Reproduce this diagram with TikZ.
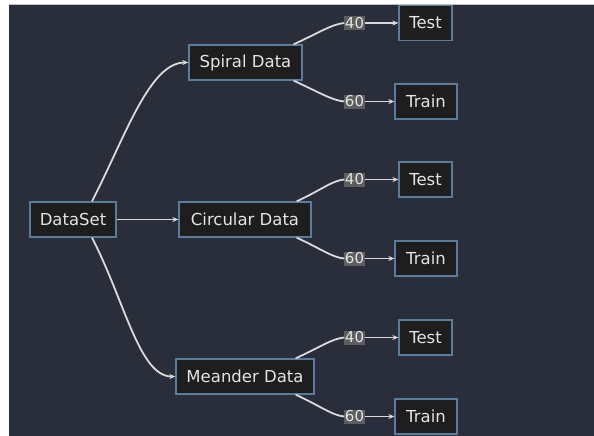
\documentclass[tikz,border=0pt]{standalone}
\usepackage{fontspec}
\setmainfont{DejaVu Sans}
\usepackage{tikz}
\usetikzlibrary{arrows.meta}
\usetikzlibrary{positioning}

\definecolor{mmbg}{HTML}{2A2E3B}
\definecolor{mmbox}{HTML}{1E1E1E}
\definecolor{mmedge}{HTML}{5A7D9E}
\definecolor{mmline}{HTML}{DADADA}
\definecolor{mmtext}{HTML}{E4E4E4}
\definecolor{mmlbl}{HTML}{5E5E5E}

\tikzset{
  box/.style={draw=mmedge, fill=mmbox, line width=1.3pt, text=mmtext,
    minimum height=35pt, inner xsep=0pt, font=\fontsize{16.5}{18}\selectfont},
  lbl/.style={fill=mmlbl, text=mmtext, inner sep=0.5pt, minimum height=14pt,
    font=\fontsize{15}{16}\selectfont},
  link/.style={draw=mmline, line width=1.8pt},
  arr/.style={link, -{Stealth[length=6pt,width=5pt]}}
}

\begin{document}
\begin{tikzpicture}[x=1pt,y=-1pt]
\useasboundingbox (0,0) rectangle (594,436);
\fill[white] (0,0) rectangle (594,436);
\fill[mmbg] (9,4) rectangle (594,436);
\draw[gray!50, line width=1pt] (9,4.5)--(594,4.5);

% left column
\node[box, minimum width=86pt] (ds) at (73,219.5) {DataSet};

% middle column
\node[box, minimum width=113pt] (spiral) at (245.5,62.5) {Spiral Data};
\node[box, minimum width=132pt] (circ) at (245,219.5) {Circular Data};
\node[box, minimum width=138pt] (mean) at (245,376.5) {Meander Data};

% right column
\node[box, minimum width=53pt] (test1) at (425.5,23) {Test};
\node[box, minimum width=62pt] (train1) at (426,101.5) {Train};
\node[box, minimum width=53pt] (test2) at (425.5,179.5) {Test};
\node[box, minimum width=62pt] (train2) at (426,258.5) {Train};
\node[box, minimum width=53pt] (test3) at (425.5,337.5) {Test};
\node[box, minimum width=62pt] (train3) at (426,416.5) {Train};

% edge labels
\node[lbl] (l1a) at (354.5,23) {40};
\node[lbl] (l1b) at (354.5,101.5) {60};
\node[lbl] (l2a) at (354.5,179.5) {40};
\node[lbl] (l2b) at (354.5,258.5) {60};
\node[lbl] (l3a) at (354.5,337.5) {40};
\node[lbl] (l3b) at (354.5,416.5) {60};

% dataset to the three sets
\draw[arr] ([xshift=19pt]ds.north) .. controls +(33,-64) and +(-39,0) .. (spiral.west);
\draw[arr] (ds.east) -- (circ.west);
\draw[arr] ([xshift=19pt]ds.south) .. controls +(33,64) and +(-36,0) .. (mean.west);

% splits
\draw[link] ([xshift=-9pt]spiral.north east) .. controls +(24,-11) and +(-12,1) .. (l1a.west);
\draw[link] ([xshift=-9pt]spiral.south east) .. controls +(24,11) and +(-12,-1) .. (l1b.west);
\draw[link] ([xshift=-15pt]circ.north east) .. controls +(24,-11) and +(-12,1) .. (l2a.west);
\draw[link] ([xshift=-15pt]circ.south east) .. controls +(24,11) and +(-12,-1) .. (l2b.west);
\draw[link] ([xshift=-19pt]mean.north east) .. controls +(24,-11) and +(-12,1) .. (l3a.west);
\draw[link] ([xshift=-19pt]mean.south east) .. controls +(24,11) and +(-12,-1) .. (l3b.west);

\draw[arr] (l1a) -- (test1);
\draw[arr] (l1b) -- (train1);
\draw[arr] (l2a) -- (test2);
\draw[arr] (l2b) -- (train2);
\draw[arr] (l3a) -- (test3);
\draw[arr] (l3b) -- (train3);
\end{tikzpicture}
\end{document}
